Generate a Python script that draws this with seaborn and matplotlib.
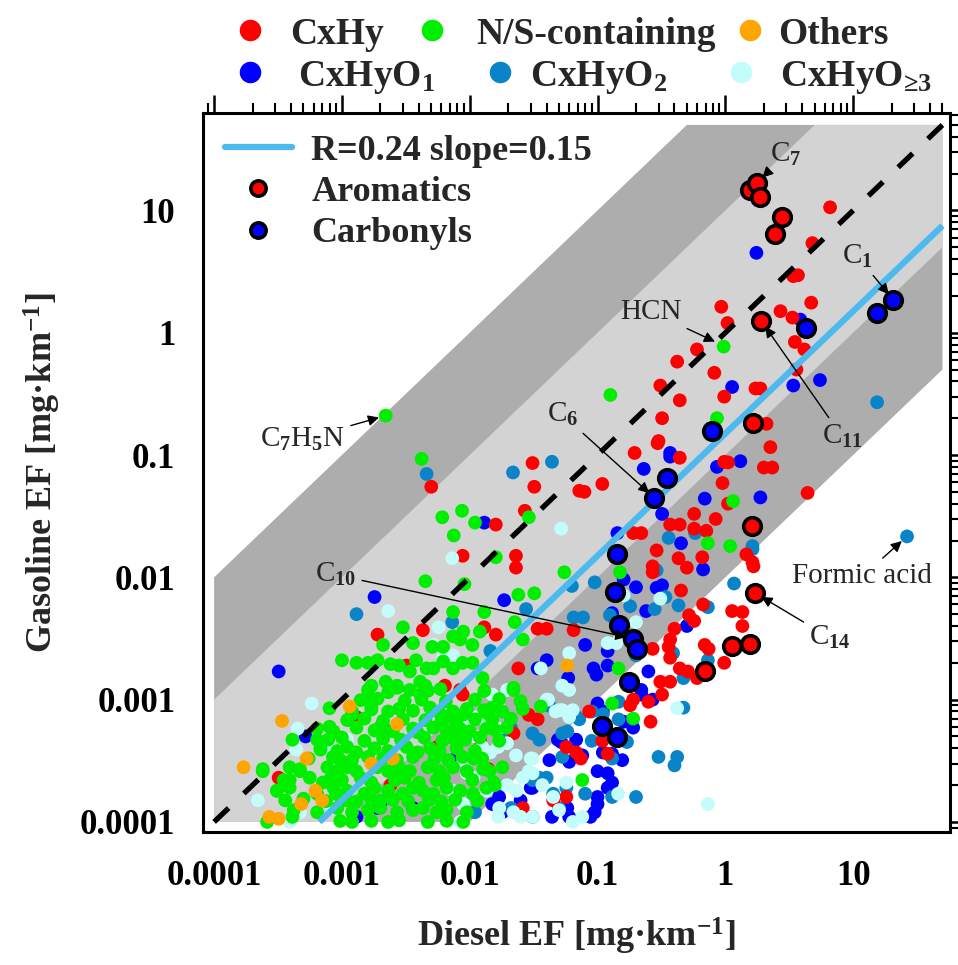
import numpy as np
import pandas as pd
import matplotlib
matplotlib.use("Agg")
import matplotlib.pyplot as plt
import matplotlib.ticker as mticker
from matplotlib.lines import Line2D
from matplotlib.patches import Polygon
import seaborn as sns

# ---------------- data (Diesel EF, Gasoline EF) in mg/km ----------------
cxhy = [(6.6,10.6),(4.8,5.4),(3.4,2.9),(3.7,2.95),(4.7,1.76),(2.7,1.5),(3.35,1.33),(3.5,0.84),(4.15,0.73),(3.6,0.5),
        (0.93,1.63),(1.04,1.2),(0.6,0.73),(0.42,0.58),(0.82,0.47),(1.72,0.35),(1.88,0.35),(0.98,0.3),(0.31,0.37),(0.44,0.28),
        (0.32,0.2),(2.1,0.18),(0.3,0.13),(0.295,0.125),(2.25,0.116),(0.195,0.104),(0.44,0.095),(0.98,0.088),(1.05,0.087),(2.0,0.079),
        (2.33,0.079),(0.109,0.058),(0.079,0.05),(0.95,0.059),(4.4,0.049),(1.05,0.04),(0.57,0.033),(0.84,0.03),(0.37,0.027),(0.44,0.027),
        (0.57,0.025),(0.71,0.024),(0.19,0.023),(0.22,0.023),(0.29,0.0166),(0.43,0.0143),(0.66,0.0146),(0.5,0.012),(1.46,0.0154),(1.63,0.0133),
        (1.66,0.0123),(0.27,0.0123),(0.45,0.0078),(0.67,0.006),(1.13,0.0053),(1.36,0.0052),(0.52,0.0049),(0.57,0.0044),(1.36,0.004),(0.4,0.0038),
        (0.37,0.0031),(0.69,0.0028),(0.74,0.0026),(0.27,0.0026),(0.37,0.0022),(0.98,0.002),(0.44,0.0018),(0.51,0.0017),(0.6,0.0015),(0.31,0.0014),
        (0.37,0.0014),(0.32,0.0011),(0.25,0.00096),(0.19,0.001),(0.18,0.0009),(0.086,0.0008),(0.26,0.00066),(0.109,0.00046),(0.12,0.00036),(0.074,0.00033),
        (0.27,0.011),(0.36,0.0027),(0.023,0.012),(0.0043,0.0037),(0.013,0.0039),(0.016,0.0034),(0.034,0.0038),(0.04,0.0038),(0.065,0.0037),(0.024,0.0018),
        (0.0064,0.0013),(0.0084,0.0012),(0.029,0.00075),(0.057,0.00041),(0.068,0.00037),(0.045,0.00015),(0.026,0.00013),(0.057,0.00016),(0.022,0.00053),(0.034,0.00069),
        (0.0056,0.00041),(0.0088,0.0011),(0.012,0.00047),(0.014,0.00027),(0.0024,0.0002),(0.0013,0.00072),(0.00032,0.00023),(0.0019,0.0034),(0.0032,0.0019),(0.005,0.055),
        (0.031,0.086),(0.032,0.055),(0.072,0.051),(0.016,0.027),(0.027,0.035),(0.0088,0.015),(0.023,0.015)]

ns_containing = [(0.0022,0.21),(0.0042,0.093),(0.0087,0.035),(0.0061,0.031),(0.011,0.028),(0.029,0.031),(0.0075,0.022),(0.016,0.0146),(0.0045,0.0093),(0.0091,0.0088),
        (0.055,0.011),(0.024,0.0072),(0.032,0.0074),(0.0074,0.0052),(0.013,0.0052),(0.003,0.0039),(0.0089,0.0036),(0.012,0.0036),(0.0074,0.0033),(0.0084,0.0031),
        (0.0225,0.0043),(0.026,0.0031),(0.0051,0.0027),(0.001,0.0021),(0.0016,0.002),(0.0028,0.0019),(0.0034,0.0017),(0.0046,0.0018),(0.0052,0.0018),(0.0074,0.0018),
        (0.0105,0.002),(0.0126,0.0015),(0.0017,0.0013),(0.0022,0.0014),(0.0027,0.0013),(0.0041,0.0014),(0.0045,0.0013),(0.0041,0.0011),(0.022,0.0012),(0.036,0.00088),
        (0.025,0.00097),(0.0074,0.00078),(0.0088,0.00075),(0.0135,0.00078),(0.0058,0.00078),(0.006,0.00066),(0.0107,0.00033),(0.0127,0.00027),(0.0157,0.0002),(0.13,0.00093),
        (0.19,0.0007),(0.146,0.0018),(0.15,0.011),(0.73,0.019),(1.09,0.018),(1.15,0.042),(0.86,0.2),(0.126,0.31),(0.97,0.77),(0.076,0.00022),
        (0.0016,0.001),(0.0017,0.00083),(0.0012,0.00076),(0.0008,0.0006),(0.00041,0.00047),(0.00064,0.00047),(0.00068,0.00039),(0.00024,0.00026),(0.00039,0.00022),(0.00047,0.00027),
        (0.00031,0.00018),(0.00041,0.00011),(0.0008,0.00022),(0.0009,0.00017),(0.0011,0.00015),(0.00097,0.00032),
        (0.0016,0.0012),(0.0023,0.00115),(0.0027,0.00125),(0.0034,0.0012),(0.0047,0.00118),(0.0059,0.00122),(0.013,0.00118),(0.022,0.00125),
        (0.0008,0.00085),(0.0012,0.0008),(0.0017,0.00087),(0.0023,0.0008),(0.0028,0.00084),(0.0036,0.00081),(0.0049,0.00086),(0.0074,0.0008),(0.0095,0.00084),(0.013,0.00082),
        (0.015,0.00086),(0.018,0.0008),(0.026,0.00084),
        (0.00064,0.00058),(0.00086,0.00055),(0.0013,0.00059),(0.0018,0.00056),(0.002,0.0006),(0.0025,0.00055),(0.0036,0.00058),(0.0039,0.00054),(0.0052,0.00059),(0.0066,0.00056),
        (0.0084,0.00058),(0.01,0.00055),(0.0135,0.00058),(0.016,0.00056),(0.0195,0.00059),
        (0.00068,0.0004),(0.00092,0.00038),(0.0011,0.00041),(0.0013,0.00037),(0.0018,0.0004),(0.0023,0.00038),(0.0032,0.00041),(0.0039,0.00037),(0.0049,0.0004),(0.0058,0.00038),
        (0.0079,0.0004),(0.011,0.00038),
        (0.00024,0.00027),(0.00039,0.00028),(0.00047,0.00026),(0.00077,0.00028),(0.00092,0.00026),(0.0011,0.00028),(0.0013,0.00026),(0.0019,0.00028),(0.0023,0.00026),(0.0028,0.00028),
        (0.0034,0.00026),(0.0047,0.00028),(0.0058,0.00026),(0.0074,0.00028),(0.0095,0.00026),(0.013,0.00028),(0.0143,0.00026),(0.018,0.00028),
        (0.00031,0.00018),(0.00039,0.00019),(0.00064,0.00017),(0.00086,0.00019),(0.0011,0.00018),(0.0015,0.00017),(0.0018,0.00019),(0.0023,0.00018),(0.003,0.00017),(0.0036,0.00019),
        (0.0043,0.00018),(0.0052,0.00017),(0.0066,0.00019),(0.0084,0.00018),(0.0106,0.00017),(0.0135,0.00019),
        (0.00042,0.000125),(0.00064,0.00012),(0.00092,0.00013),(0.0012,0.00012),(0.0016,0.000125),(0.002,0.00013),(0.0027,0.00012),(0.0036,0.000125),(0.0043,0.00013),(0.0055,0.00012),
        (0.0066,0.000125),(0.0095,0.00012),
        (0.00026,0.0001),(0.00097,0.000102),(0.0012,0.0001),(0.0017,0.000102),(0.0023,0.0001),(0.0028,0.000103),(0.0047,0.0001),(0.0066,0.000102),(0.0089,0.0001),
        (0.0014,0.00099),(0.0019,0.00102),(0.0031,0.00098),(0.0042,0.001),(0.0065,0.00097),(0.011,0.001),(0.017,0.00101),
        (0.0011,0.00068),(0.0015,0.0007),(0.0021,0.00067),(0.003,0.00069),(0.0045,0.00068),(0.0062,0.0007),(0.0078,0.00066),(0.011,0.00069),(0.015,0.00068),(0.021,0.0007),
        (0.00078,0.00047),(0.001,0.00049),(0.0015,0.00046),(0.0021,0.00048),(0.0029,0.00047),(0.0044,0.00049),(0.0061,0.00046),(0.0075,0.00048),(0.0092,0.00047),(0.012,0.00049),(0.017,0.00046),
        (0.00055,0.00033),(0.00085,0.00034),(0.0012,0.00032),(0.0016,0.00034),(0.0021,0.00033),(0.0027,0.00032),(0.0036,0.00034),(0.0053,0.00033),(0.0068,0.00032),(0.0088,0.00034),(0.0125,0.00033),
        (0.00035,0.00022),(0.00056,0.00023),(0.00071,0.00021),(0.001,0.00022),(0.0014,0.00023),(0.0017,0.00021),(0.0026,0.00022),(0.0031,0.00023),(0.004,0.00021),(0.0055,0.00022),(0.0063,0.00023),(0.0105,0.00022),(0.0155,0.00021),
        (0.00036,0.00015),(0.0005,0.000155),(0.00075,0.000148),(0.001,0.000152),(0.0013,0.000147),(0.0017,0.000153),(0.002,0.000149),(0.0025,0.000152),(0.0033,0.000148),(0.0048,0.000151),(0.006,0.000147),(0.0077,0.000152),(0.0115,0.000149),
        (0.0013,0.002),(0.0019,0.0021),(0.0024,0.00195),(0.0038,0.0021),(0.0062,0.00205),(0.0088,0.002),
        (0.0021,0.0028),(0.0036,0.0029),(0.0062,0.0027),(0.0105,0.0028)]

others = [(0.00017,0.00028),(0.00034,0.00067),(0.00115,0.00088),(0.0027,0.00063),(0.00053,0.00033),(0.00062,0.00018),(0.0007,0.00015),
          (0.00048,0.00014),(0.00027,0.00011),(0.00032,0.000106),(0.0025,0.00033),(0.0017,0.0003),(0.058,0.0019)]

cxhyo1 = [(1.75,4.5),(3.86,1.28),(5.5,0.41),(3.4,0.37),(1.13,0.36),(1.31,0.089),(0.86,0.08),(0.37,0.104),(0.37,0.097),(0.23,0.077),
          (0.69,0.044),(1.88,0.045),(0.32,0.033),(0.143,0.023),(0.45,0.019),(0.67,0.0116),(0.16,0.0096),(0.2,0.0083),(0.29,0.0082),(0.32,0.0086),
          (0.24,0.0053),(0.5,0.004),(0.08,0.0028),(0.12,0.0025),(0.12,0.0019),(0.093,0.0018),(0.098,0.0016),(0.25,0.0017),(0.18,0.0014),(0.22,0.0012),
          (0.27,0.001),(0.1,0.00093),(0.11,0.0008),(0.16,0.00066),(0.19,0.00059),(0.156,0.00032),(0.1,0.00026),(0.12,0.00025),(0.13,0.00021),(0.1,0.00016),
          (0.1,0.00014),(0.095,0.00012),(0.088,0.00011),(0.0186,0.0065),(0.013,0.028),(0.0018,0.0069),(0.00032,0.0017),(0.00052,0.0005),(0.04,0.0021),(0.034,0.0018),
          (0.059,0.0015),(0.13,0.0051),(0.049,0.00047),(0.068,0.00047),(0.076,0.00035),(0.11,0.00037),(0.13,0.00036),(0.12,0.00019),(0.044,0.00011),(0.06,0.00011),
          (0.058,0.00013),(0.017,0.00016),(0.025,0.00015),(0.03,0.00019),(0.052,0.00045),(0.042,0.00032),(0.06,0.00031),(0.031,0.00019),(0.015,0.00014),(0.018,0.00012),
          (0.0074,0.00032),(0.0019,0.00013),(0.0013,0.00011),(0.0036,0.00013),(0.002,0.00014),(0.22,0.0011)]

cxhyo2 = [(15.4,0.27),(26.4,0.0216),(0.0046,0.07),(0.044,0.088),(0.0218,0.072),(0.0013,0.005),(0.0276,0.0055),(0.077,0.0047),(0.095,0.0091),(0.063,0.0085),
          (0.065,0.0047),(0.0073,0.0043),(0.0145,0.0025),(0.58,0.023),(0.36,0.021),(1.63,0.018),(1.63,0.017),(0.29,0.0114),(1.17,0.0089),(0.34,0.0069),
          (0.18,0.0058),(0.28,0.0055),(0.43,0.0059),(0.73,0.0057),(0.125,0.0049),(0.39,0.0024),(0.73,0.0021),(0.2,0.0023),(0.47,0.0015),(0.47,0.00086),
          (0.146,0.00096),(0.146,0.00069),(0.072,0.00069),(0.09,0.00046),(0.17,0.00045),(0.3,0.00034),(0.42,0.00034),(0.4,0.00029),(0.08,0.00017),(0.13,0.00016),
          (0.2,0.00016),(0.16,0.00047),(0.0195,0.0005),(0.031,0.00053),(0.035,0.00047),(0.053,0.00053),(0.04,0.00023),(0.031,0.00022),(0.057,0.00019),(0.05,0.00013),
          (0.021,0.00013),(0.068,0.00073),(0.042,0.00089),(0.011,0.00012),(0.031,0.00011),(0.058,0.00055),(0.053,0.00034),(0.045,0.00017),(0.13,0.00033),(0.035,0.00023),
          (0.09,0.0008),(0.11,0.00076),(0.0021,0.0006),(0.021,0.00059)]

cxhyo3 = [(0.052,0.025),(0.0073,0.0143),(0.0023,0.0053),(0.0057,0.0039),(0.00058,0.00093),(0.00045,0.00058),(0.0011,0.00047),(0.00044,0.00039),(0.00022,0.00015),(0.00038,0.00018),
          (0.00047,0.00012),(0.00039,0.0001),(0.00085,0.00013),(0.0008,0.0004),(0.0052,0.0028),(0.0074,0.0023),(0.0062,0.0022),(0.015,0.0011),(0.0196,0.0012),(0.041,0.001),
          (0.0167,0.00088),(0.053,0.00082),(0.064,0.00082),(0.053,0.0013),(0.06,0.0012),(0.06,0.0024),(0.036,0.0018),(0.14,0.0029),(0.047,0.0008),(0.0114,0.00072),
          (0.0136,0.00064),(0.0167,0.00058),(0.0089,0.00061),(0.011,0.0005),(0.0125,0.00041),(0.0145,0.00037),(0.0167,0.00041),(0.0089,0.00032),(0.0095,0.00025),(0.0196,0.0002),
          (0.0233,0.00018),(0.031,0.00033),(0.029,0.00026),(0.025,0.00011),(0.0167,0.00011),(0.031,0.00011),(0.0095,0.00064),(0.0145,0.00072),(0.016,0.00085),(0.0196,0.00044),
          (0.023,0.00035),(0.03,0.00033),(0.04,0.001),(0.05,0.00082),(0.06,0.00072),(0.031,0.00025),(0.026,0.00023),(0.037,0.0002),(0.057,0.00021),(0.045,0.00016),
          (0.05,0.000125),(0.064,0.0001),(0.022,0.00012),(0.017,0.00013),(0.0135,0.00018),(0.0127,0.00027),(0.0095,0.00032),(0.0107,0.00023),(0.0074,0.00018),(0.0089,0.00014),
          (0.0084,0.0001),(0.16,0.0071),(0.31,0.0067),(0.2,0.0043),(0.12,0.0029),(0.42,0.00085),(0.73,0.00014),(0.076,0.00011),(0.145,0.00017)]

aromatics = [(1.57,14.6),(1.78,16.9),(1.88,12.8),(2.79,8.9),(2.46,6.4),(1.91,1.25),(1.65,0.182),(1.63,0.0261),
             (1.72,0.0074),(1.13,0.00276),(1.55,0.00287),(0.687,0.00173)]
carbonyls = [(20.6,1.86),(15.4,1.46),(4.3,1.1),(0.79,0.157),(0.347,0.0649),(0.279,0.0447),(0.143,0.0154),
             (0.136,0.00754),(0.148,0.0041),(0.19,0.00316),(0.205,0.00261),(0.175,0.0014),(0.109,0.000613),(0.141,0.000499)]

groups = ["CxHyO$_\\mathbf{1}$", "CxHyO$_\\mathbf{2}$", "CxHy", "CxHyO$_\\mathbf{≥3}$", "N/S-containing", "Others"]
group_data = [cxhyo1, cxhyo2, cxhy, cxhyo3, ns_containing, others]
colors = ["#0000ff", "#0a84c8", "#ff0000", "#c4fcfc", "#00ee00", "#ffa500"]

fit_R, fit_slope = 0.24, 0.15
band_inner, band_outer = 10, 100
axis_min, axis_max = 1e-4, 50

# ---------------- style ----------------
sns.set_theme(style="white")
plt.rcParams["font.family"] = ["Liberation Serif", "DejaVu Serif"]
plt.rcParams["font.weight"] = "bold"
plt.rcParams["mathtext.fontset"] = "custom"
plt.rcParams["mathtext.rm"] = "Liberation Serif"
plt.rcParams["mathtext.bf"] = "Liberation Serif:bold"
plt.rcParams["mathtext.it"] = "Liberation Serif:italic"
plt.rcParams["mathtext.default"] = "rm"

W, H = 958, 965
fig = plt.figure(figsize=(W / 100, H / 100), dpi=100)
ax = fig.add_axes([0.212, 0.138, 0.780, 0.745])
ax.set_xscale("log")
ax.set_yscale("log")
ax.set_xlim(8.2e-5, 57.6)
ax.set_ylim(8.3e-5, 62.7)

# shaded bands (factor 100 and factor 10 around 1:1)
def band(f):
    return [(axis_min, axis_min), (axis_min, axis_min * f), (axis_max / f, axis_max),
            (axis_max, axis_max), (axis_max, axis_max / f), (axis_min * f, axis_min)]
ax.add_patch(Polygon(band(band_outer), closed=True, facecolor="#adadad", edgecolor="none", zorder=0))
ax.add_patch(Polygon(band(band_inner), closed=True, facecolor="#d3d3d3", edgecolor="none", zorder=0.5))

# scatter
rows = []
for g, d in zip(groups, group_data):
    for x, y in d:
        rows.append((x, y, g))
df = pd.DataFrame(rows, columns=["Diesel", "Gasoline", "Group"])
sns.scatterplot(data=df, x="Diesel", y="Gasoline", hue="Group", hue_order=groups,
                palette=dict(zip(groups, colors)), s=98, linewidth=0, legend=False, ax=ax, zorder=3)

# lines
ax.plot([axis_min, axis_max], [axis_min, axis_max], color="black", lw=3.8,
        ls=(0, (3.8, 4.0)), zorder=4)
ax.plot([axis_min / fit_slope, axis_max], [axis_min, axis_max * fit_slope],
        color="#4cb9ef", lw=4.5, zorder=4, solid_capstyle="butt")

hx = pd.DataFrame(aromatics, columns=["Diesel", "Gasoline"])
cx = pd.DataFrame(carbonyls, columns=["Diesel", "Gasoline"])
sns.scatterplot(data=hx, x="Diesel", y="Gasoline", color="#ff0000", edgecolor="black",
                linewidth=2.6, s=160, ax=ax, zorder=6, legend=False)
sns.scatterplot(data=cx, x="Diesel", y="Gasoline", color="#0000ff", edgecolor="black",
                linewidth=2.6, s=160, ax=ax, zorder=6, legend=False)

# axes cosmetics
ax.xaxis.set_major_locator(mticker.LogLocator(base=10, numticks=20))
ax.yaxis.set_major_locator(mticker.LogLocator(base=10, numticks=20))
ax.xaxis.set_minor_locator(mticker.LogLocator(base=10, subs=np.arange(2, 10), numticks=100))
ax.yaxis.set_minor_locator(mticker.LogLocator(base=10, subs=np.arange(2, 10), numticks=100))
fmt = mticker.FuncFormatter(lambda v, p: f"{v:g}")
ax.xaxis.set_major_formatter(fmt)
ax.yaxis.set_major_formatter(fmt)
ax.xaxis.set_minor_formatter(mticker.NullFormatter())
ax.yaxis.set_minor_formatter(mticker.NullFormatter())
ax.tick_params(which="both", direction="out", top=True, right=True, labeltop=False, labelright=False,
               colors="black")
ax.tick_params(which="major", length=13, width=1.8, labelsize=25, pad=7)
ax.tick_params(which="minor", length=7, width=1.5)
for sp in ax.spines.values():
    sp.set_linewidth(2.2)
    sp.set_color("black")
ax.set_xlabel("Diesel EF [mg·km$^{\\mathbf{-1}}$]", fontsize=26, fontweight="bold", labelpad=17)
ax.set_ylabel("Gasoline EF [mg·km$^{\\mathbf{-1}}$]", fontsize=26, fontweight="bold", labelpad=12)

# inner legend
lh = [Line2D([0], [0], color="#4cb9ef", lw=4.5),
      Line2D([], [], ls="", marker="o", ms=11, mfc="#ff0000", mec="black", mew=2.6),
      Line2D([], [], ls="", marker="o", ms=11, mfc="#0000ff", mec="black", mew=2.6)]
ax.legend(lh, [f"R={fit_R} slope={fit_slope}", "Aromatics", "Carbonyls"], loc="upper left",
          frameon=False, prop={"weight": "bold", "size": 26}, handlelength=1.85, handletextpad=0.55,
          labelspacing=0.22, borderaxespad=0.2, bbox_to_anchor=(0.0, 1.0))

# top legend (two rows, entries placed as in the original figure)
legend_rows = [[(2, 250, 290), (4, 432, 476), (5, 750, 778)],
               [(0, 250, 298), (1, 500, 530), (3, 741, 780)]]
row_y = [30, 72]
for r, entries in enumerate(legend_rows):
    yf = 1 - row_y[r] / H
    for gi, mx, tx in entries:
        fig.add_artist(Line2D([mx / W], [yf], transform=fig.transFigure, ls="", marker="o",
                              ms=15.5, mfc=colors[gi], mec="none"))
        fig.text(tx / W, yf, groups[gi], ha="left", va="center_baseline", fontsize=27,
                 fontweight="bold")

# annotations
ak = dict(arrowstyle="-|>", color="black", lw=1.0, mutation_scale=16, shrinkA=2, shrinkB=5)
def note(txt, xy, xyt):
    ax.annotate(txt, xy=xy, xytext=xyt, ha="center", va="center", fontsize=21,
                fontweight="normal", arrowprops=ak, zorder=7)
note("C$_7$", aromatics[1], (2.95, 28.5))
note("C$_1$", carbonyls[0], (10.8, 4.2))
note("HCN", (0.93, 0.8), (0.26, 1.49))
note("C$_{11}$", aromatics[5], (8.2, 0.141))
note("C$_6$", carbonyls[5], (0.053, 0.214))
note("C$_7$H$_5$N", ns_containing[0], (0.00049, 0.134))
note("C$_{10}$", carbonyls[9], (0.00089, 0.0105))
note("C$_{14}$", aromatics[8], (6.6, 0.0032))
note("Formic acid", cxhyo2[1], (11.8, 0.0102))

fig.savefig("out.png", dpi=100)
